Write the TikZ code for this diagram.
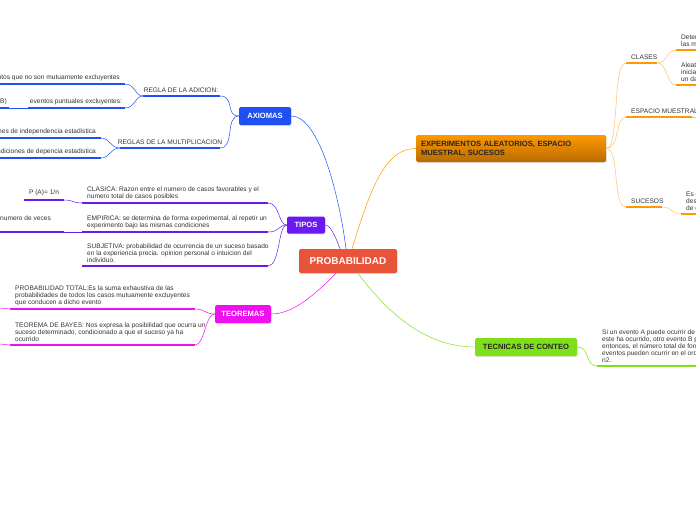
\documentclass[tikz,border=0pt]{standalone}
\usepackage{fontspec}
\setmainfont{Liberation Sans}
\usetikzlibrary{positioning,shadows}
\definecolor{probred}{HTML}{E8533A}
\definecolor{axblue}{HTML}{1F50F2}
\definecolor{tipviolet}{HTML}{6A1AF0}
\definecolor{teomag}{HTML}{EE10EE}
\definecolor{expor}{HTML}{FF9900}
\definecolor{expbrown}{HTML}{B86B00}
\definecolor{tecgreen}{HTML}{7FE01A}
\tikzset{
  main/.style={rounded corners=1.5pt,text=white,font=\fontsize{7.6}{9}\selectfont\bfseries,drop shadow={opacity=0.25,shadow xshift=0.6pt,shadow yshift=-0.8pt}},
  txt/.style={font=\fontsize{6.6}{7.1}\selectfont,text=black!80,inner sep=0pt,align=left},
  uline/.style={line width=1.6pt},
  link/.style={line width=0.5pt}
}
\newcommand{\leaf}[6]{% name, color, x1, x2, y, (unused)
  \coordinate (#1l) at (#3,#5); \coordinate (#1r) at (#4,#5);
  \draw[uline,#2] (#1l) -- (#1r);}
\begin{document}
\begin{tikzpicture}[x=1pt,y=-1pt]
\useasboundingbox (0,0) rectangle (696,520);
\clip (0,0) rectangle (696,520);

% central node
\node[main,fill=probred,minimum width=98pt,minimum height=24pt,font=\fontsize{10}{11}\selectfont\bfseries] (prob) at (348,261) {PROBABILIDAD};

% main topics
\node[main,fill=axblue,minimum width=52pt,minimum height=18pt] (ax) at (265,116) {AXIOMAS};
\node[main,fill=tipviolet,minimum width=38pt,minimum height=17pt] (tip) at (306,225) {TIPOS};
\node[main,fill=teomag,minimum width=56pt,minimum height=18pt] (teo) at (243,314) {TEOREMAS};
\node[main,top color=expor,bottom color=expbrown,text=black!85,minimum width=190pt,minimum height=27pt,align=left,text width=180pt] (exp) at (511,148.5) {EXPERIMENTOS ALEATORIOS, ESPACIO\\MUESTRAL, SUCESOS};
\node[main,fill=tecgreen,text=black!85,minimum width=102pt,minimum height=18pt] (tec) at (526,347) {TECNICAS DE CONTEO};

% links from the center
\draw[link,axblue] (prob.north) ++(-2,0) .. controls (340,200) and (320,116) .. (ax.east);
\draw[link,tipviolet] (prob.north) ++(-8,0) .. controls (335,235) and (330,225) .. (tip.east);
\draw[link,teomag] (prob.south) ++(-12,0) .. controls (310,300) and (290,314) .. (teo.east);
\draw[link,expor] (prob.north) ++(4,0) .. controls (370,190) and (385,148) .. (exp.west);
\draw[link,tecgreen] (prob.south) ++(10,0) .. controls (400,330) and (440,347) .. (tec.west);

% AXIOMAS
\leaf{adi}{axblue}{143}{220}{96}{}
\leaf{mul}{axblue}{120}{220}{148}{}
\node[txt,anchor=south] (adit) at (181,93) {REGLA DE LA ADICION:};
\node[txt,anchor=south] (mult) at (170,145) {REGLAS DE LA MULTIPLICACION};
\draw[link,axblue] (ax.west) .. controls (225,116) and (235,96) .. (adir);
\draw[link,axblue] (ax.west) .. controls (225,116) and (235,148) .. (mulr);
\leaf{a1}{axblue}{0}{125}{84}{}
\leaf{a2}{axblue}{28}{125}{108}{}
\leaf{a3}{axblue}{0}{9}{108}{}
\node[txt,anchor=south east] (a1t) at (120,81) {entos que no son mutuamente excluyentes};
\node[txt,anchor=south] (a2t) at (76,105) {eventos puntuales excluyentes:};
\node[txt,anchor=south west] (a3t) at (0,105) {B)};
\draw[link,axblue] (adil) .. controls (135,96) and (135,84) .. (a1r);
\draw[link,axblue] (adil) .. controls (135,96) and (135,108) .. (a2r);
\draw[link,axblue] (a2l) -- (a3r);
\leaf{m1}{axblue}{0}{101}{138}{}
\leaf{m2}{axblue}{0}{101}{158}{}
\node[txt,anchor=south east] (m1t) at (96,135) {iones de independencia estadistica};
\node[txt,anchor=south east] (m2t) at (96,155) {condiciones de depencia estadistica};
\draw[link,axblue] (mull) .. controls (110,148) and (110,138) .. (m1r);
\draw[link,axblue] (mull) .. controls (110,148) and (110,158) .. (m2r);

% TIPOS
\leaf{cla}{tipviolet}{82}{268}{203}{}
\leaf{emp}{tipviolet}{82}{268}{232}{}
\leaf{sub}{tipviolet}{82}{268}{266}{}
\node[txt,anchor=south west] (clat) at (87,200) {CLASICA: Razon entre el numero de casos favorables y el\\numero total de casos posibles};
\node[txt,anchor=south west] (empt) at (87,229) {EMPIRICA: se determina de forma experimental, al repetir un\\experimento bajo las mismas condiciones};
\node[txt,anchor=south west] (subt) at (87,263) {SUBJETIVA: probabilidad de ocurrencia de un suceso basado\\en la experiencia precia. opinion personal o intuicion del\\individuo.};
\draw[link,tipviolet] (tip.west) .. controls (278,225) and (280,203) .. (clar);
\draw[link,tipviolet] (tip.west) .. controls (278,225) and (280,232) .. (empr);
\draw[link,tipviolet] (tip.west) .. controls (278,225) and (280,266) .. (subr);
\leaf{pa}{tipviolet}{24}{64}{200}{}
\leaf{nv}{tipviolet}{0}{64}{232}{}
\node[txt,anchor=south] (pat) at (44,196) {P (A)= 1/n};
\node[txt,anchor=south west] (nvt) at (0,221) {numero de veces};
\draw[link,tipviolet] (clal) .. controls (72,203) and (74,200) .. (par);
\draw[link,tipviolet] (empl) -- (nvr);

% TEOREMAS
\leaf{tot}{teomag}{10}{195}{309}{}
\leaf{bay}{teomag}{10}{195}{345}{}
\node[txt,anchor=south west] (tott) at (15,306) {PROBABILIDAD TOTAL:Es la suma exhaustiva de las\\probabilidades de todos los casos mutuamente excluyentes\\que conducen a dicho evento};
\node[txt,anchor=south west] (bayt) at (15,342) {TEOREMA DE BAYES: Nos expresa la posibilidad que ocurra un\\suceso determinado, condicionado a que el suceso ya ha\\ocurrido};
\draw[link,teomag] (teo.west) .. controls (205,314) and (205,309) .. (totr);
\draw[link,teomag] (teo.west) .. controls (205,314) and (205,345) .. (bayr);
\coordinate (totx) at (0,308); \coordinate (bayx) at (0,344);
\draw[link,teomag] (totl) -- (totx);
\draw[link,teomag] (bayl) -- (bayx);

% EXPERIMENTOS
\leaf{cls}{expor}{626}{657}{63}{}
\leaf{esp}{expor}{626}{692}{117}{}
\leaf{suc}{expor}{626}{662}{207}{}
\node[txt,anchor=south west] (clst) at (631,60) {CLASES};
\node[txt,anchor=south west] (espt) at (631,114) {ESPACIO MUESTRAL};
\node[txt,anchor=south west] (suct) at (631,204) {SUCESOS};
\draw[link,expor!60] (exp.east) .. controls (620,148) and (612,63) .. (clsl);
\draw[link,expor!60] (exp.east) .. controls (620,148) and (615,117) .. (espl);
\draw[link,expor!60] (exp.east) .. controls (620,148) and (612,207) .. (sucl);
\coordinate (espx) at (696,117);
\draw[link,expor!60] (espr) -- (espx);
\leaf{c1}{expor}{676}{700}{50}{}
\leaf{c2}{expor}{676}{700}{85}{}
\leaf{s1}{expor}{681}{700}{214}{}
\node[txt,anchor=south west] (c1t) at (681,47) {Deter\\las m};
\node[txt,anchor=south west] (c2t) at (681,82) {Aleat\\inicial\\un da};
\node[txt,anchor=south west] (s1t) at (686,211) {Es c\\desc\\de c};
\draw[link,expor!60] (clsr) .. controls (668,63) and (666,50) .. (c1l);
\draw[link,expor!60] (clsr) .. controls (668,63) and (666,85) .. (c2l);
\draw[link,expor!60] (sucr) .. controls (672,207) and (672,214) .. (s1l);

% TECNICAS
\leaf{reg}{tecgreen}{597}{700}{366}{}
\node[txt,anchor=south west] (regt) at (602,363) {Si un evento A puede ocurrir de n\\este ha ocurrido, otro evento B pu\\entonces, el número total de form\\eventos pueden ocurrir en el orde\\n2.};
\draw[link,tecgreen] (tec.east) .. controls (590,347) and (585,366) .. (regl);
\end{tikzpicture}
\end{document}
